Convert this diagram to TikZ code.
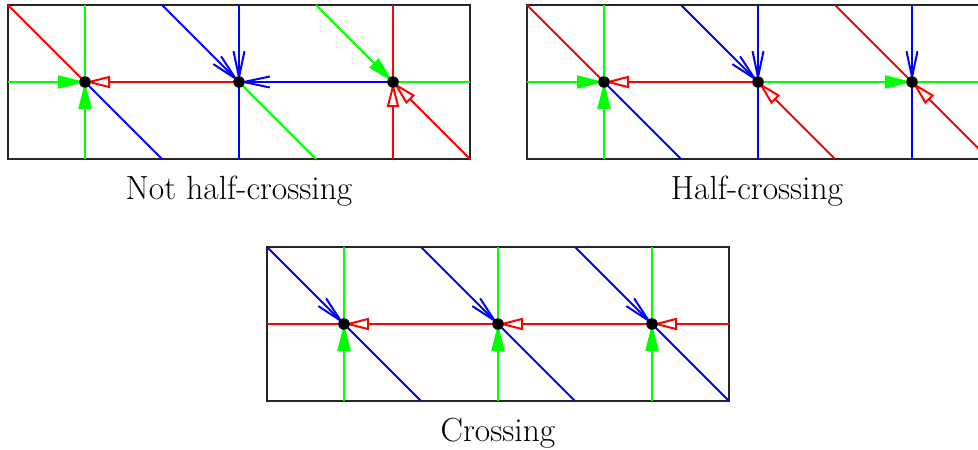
\documentclass[tikz,border=0pt]{standalone}
\usetikzlibrary{arrows.meta}
\newcommand\pcoords[1]{%
  \foreach \i in {0,...,6}{%
    \coordinate (#1t\i) at (\i,0);
    \coordinate (#1b\i) at (\i,2);
    \coordinate (#1m\i) at (\i,1);
  }%
}
\begin{document}
\begin{tikzpicture}[x=1pt,y=-1pt,line width=2pt,
  ga/.style={draw=green,-{Triangle[length=27pt,width=13pt]}},
  ra/.style={draw=red,-{Triangle[open,length=25pt,width=12pt]}},
  ba/.style={draw=blue,-{Straight Barb[length=26pt,width=11pt]}},
  gl/.style={draw=green},
  rl/.style={draw=red},
  bl/.style={draw=blue},
  panelbox/.style={draw=black!85,line width=1.3pt},
  vdot/.style={circle,fill=black,inner sep=0pt,minimum size=11.5pt},
  lab/.style={font=\fontsize{33.5}{40}\selectfont,anchor=base}]
\useasboundingbox (0,0) rectangle (978,450);
\clip (0,0) rectangle (978,450);

% ---------- Panel 1: Not half-crossing ----------
\begin{scope}[shift={(8,5)},x=77pt,y=-77pt]
\pcoords{A}
\draw[panelbox] (At0) rectangle (Ab6);
\draw[rl] (At0) -- (Am1);
\draw[bl] (Am1) -- (Ab2);
\draw[gl] (At1) -- (Am1);
\draw[ga] (Ab1) -- (Am1);
\draw[ga] (Am0) -- (Am1);
\draw[ra] (Am3) -- (Am1);
\draw[ba] (At2) -- (Am3);
\draw[ba] (At3) -- (Am3);
\draw[ba] (Am5) -- (Am3);
\draw[bl] (Am3) -- (Ab3);
\draw[gl] (Am3) -- (Ab4);
\draw[ga] (At4) -- (Am5);
\draw[rl] (At5) -- (Am5);
\draw[ra] (Ab5) -- (Am5);
\draw[ra] (Ab6) -- (Am5);
\draw[gl] (Am5) -- (Am6);
\node[vdot] (Av1) at (Am1) {};
\node[vdot] (Av3) at (Am3) {};
\node[vdot] (Av5) at (Am5) {};
\end{scope}

% ---------- Panel 2: Half-crossing ----------
\begin{scope}[shift={(527,5)},x=77pt,y=-77pt]
\pcoords{B}
\draw[panelbox] (Bt0) rectangle (Bb6);
\draw[rl] (Bt0) -- (Bm1);
\draw[bl] (Bm1) -- (Bb2);
\draw[gl] (Bt1) -- (Bm1);
\draw[ga] (Bb1) -- (Bm1);
\draw[ga] (Bm0) -- (Bm1);
\draw[ra] (Bm3) -- (Bm1);
\draw[ba] (Bt2) -- (Bm3);
\draw[ba] (Bt3) -- (Bm3);
\draw[bl] (Bm3) -- (Bb3);
\draw[ra] (Bb4) -- (Bm3);
\draw[ga] (Bm3) -- (Bm5);
\draw[rl] (Bt4) -- (Bm5);
\draw[ba] (Bt5) -- (Bm5);
\draw[bl] (Bm5) -- (Bb5);
\draw[ra] (Bb6) -- (Bm5);
\draw[gl] (Bm5) -- (Bm6);
\node[vdot] (Bv1) at (Bm1) {};
\node[vdot] (Bv3) at (Bm3) {};
\node[vdot] (Bv5) at (Bm5) {};
\end{scope}

% ---------- Panel 3: Crossing ----------
\begin{scope}[shift={(267,247)},x=77pt,y=-77pt]
\pcoords{C}
\draw[panelbox] (Ct0) rectangle (Cb6);
\draw[ba] (Ct0) -- (Cm1);
\draw[bl] (Cm1) -- (Cb2);
\draw[gl] (Ct1) -- (Cm1);
\draw[ga] (Cb1) -- (Cm1);
\draw[rl] (Cm0) -- (Cm1);
\draw[ra] (Cm3) -- (Cm1);
\draw[ba] (Ct2) -- (Cm3);
\draw[bl] (Cm3) -- (Cb4);
\draw[gl] (Ct3) -- (Cm3);
\draw[ga] (Cb3) -- (Cm3);
\draw[ra] (Cm5) -- (Cm3);
\draw[ba] (Ct4) -- (Cm5);
\draw[bl] (Cm5) -- (Cb6);
\draw[gl] (Ct5) -- (Cm5);
\draw[ga] (Cb5) -- (Cm5);
\draw[ra] (Cm6) -- (Cm5);
\node[vdot] (Cv1) at (Cm1) {};
\node[vdot] (Cv3) at (Cm3) {};
\node[vdot] (Cv5) at (Cm5) {};
\end{scope}

\node[lab] (lab1) at (239,199) {Not half-crossing};
\node[lab] (lab2) at (757,199) {Half-crossing};
\node[lab] (lab3) at (498,441) {Crossing};
\end{tikzpicture}
\end{document}
